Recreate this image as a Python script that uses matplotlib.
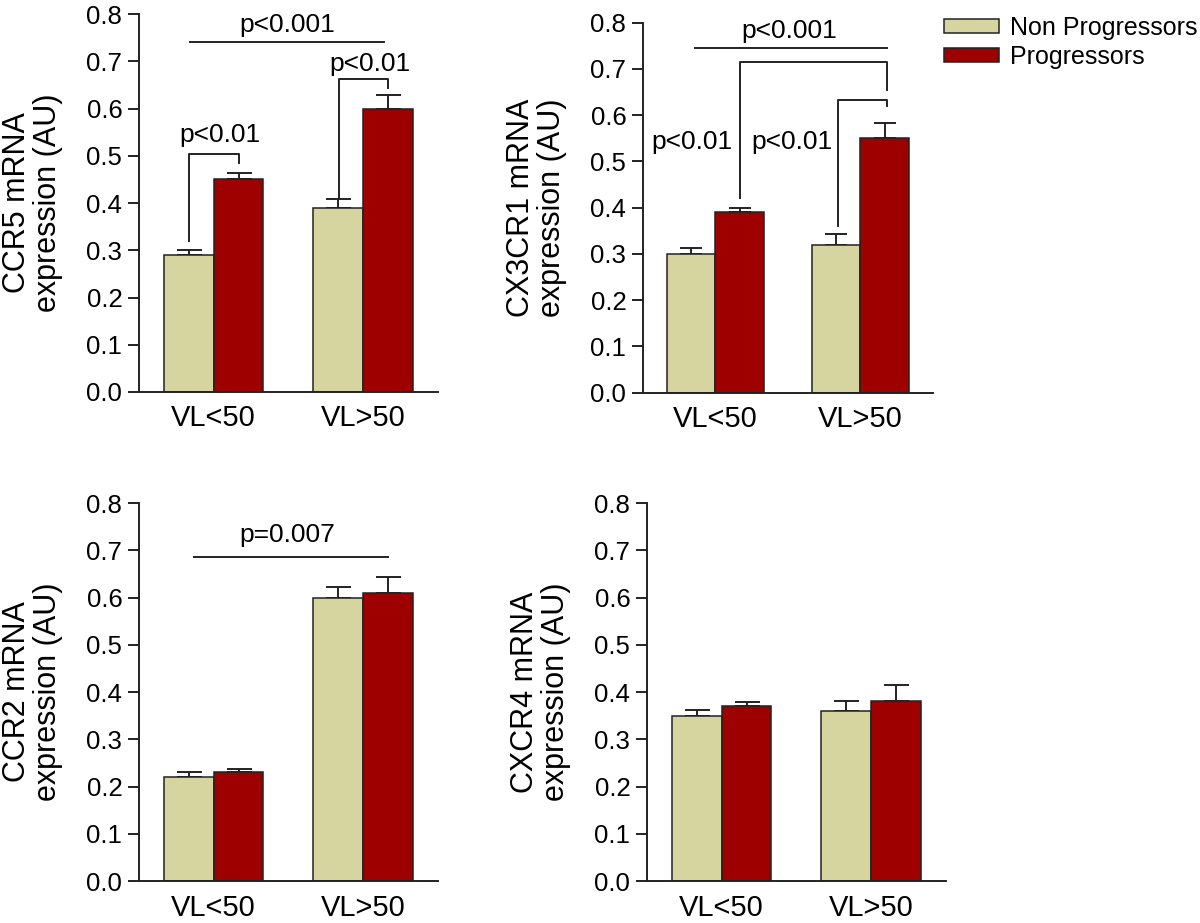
import numpy as np
import matplotlib
matplotlib.use("Agg")
import matplotlib.pyplot as plt

plt.rcParams['font.family'] = ['Liberation Sans', 'DejaVu Sans']

groups = ["VL<50", "VL>50"]
series_names = ["Non Progressors", "Progressors"]

ccr5_non = [0.29, 0.39]
ccr5_prog = [0.45, 0.60]
ccr5_non_err = [0.010, 0.019]
ccr5_prog_err = [0.014, 0.028]

cx3cr1_non = [0.30, 0.32]
cx3cr1_prog = [0.39, 0.55]
cx3cr1_non_err = [0.013, 0.024]
cx3cr1_prog_err = [0.009, 0.034]

ccr2_non = [0.22, 0.60]
ccr2_prog = [0.23, 0.61]
ccr2_non_err = [0.010, 0.023]
ccr2_prog_err = [0.008, 0.033]

cxcr4_non = [0.35, 0.36]
cxcr4_prog = [0.37, 0.38]
cxcr4_non_err = [0.011, 0.020]
cxcr4_prog_err = [0.009, 0.034]

NON_COLOR = '#d6d5a0'
PROG_COLOR = '#9e0000'
INK = '#222222'
LW = 1.4
BAR_W = 0.333

fig = plt.figure(figsize=(12, 9.23), dpi=100)


def make_panel(rect, name, non, prog, non_err, prog_err, capsize):
    ax = fig.add_axes(rect)
    x = np.arange(len(groups))
    b1 = ax.bar(x - BAR_W / 2, non, BAR_W, color=NON_COLOR,
                edgecolor=INK, linewidth=1.1, zorder=2,
                label=series_names[0])
    b2 = ax.bar(x + BAR_W / 2, prog, BAR_W, color=PROG_COLOR,
                edgecolor=INK, linewidth=1.1, zorder=2,
                label=series_names[1])
    # only the upper half of the error bars is drawn
    ax.errorbar(x - BAR_W / 2, non, yerr=[np.zeros(2), non_err], fmt='none',
                ecolor=INK, elinewidth=LW, capsize=capsize,
                capthick=LW, zorder=1)
    ax.errorbar(x + BAR_W / 2, prog, yerr=[np.zeros(2), prog_err],
                fmt='none', ecolor=INK, elinewidth=LW,
                capsize=capsize, capthick=LW, zorder=1)
    ax.set_xlim(-0.5, 1.5)
    ax.set_ylim(0, 0.8)
    ax.set_yticks(np.arange(0, 0.81, 0.1))
    ax.set_yticklabels(["%.1f" % v for v in np.arange(0, 0.81, 0.1)])
    ax.set_xticks(x)
    ax.set_xticklabels(groups)
    ax.spines['top'].set_visible(False)
    ax.spines['right'].set_visible(False)
    for side in ('left', 'bottom'):
        ax.spines[side].set_linewidth(LW)
        ax.spines[side].set_color(INK)
    ax.tick_params(axis='y', length=8, width=LW, pad=4, labelsize=18.5,
                   color=INK)
    ax.tick_params(axis='x', length=0, pad=9, labelsize=21)
    ax.set_ylabel(name + " mRNA\nexpression (AU)", fontsize=22,
                  linespacing=1.05)
    width_px = rect[2] * 1200
    ax.yaxis.set_label_coords(-76 / width_px, 0.5)
    return ax, b1, b2


def hline(ax, x0, x1, y):
    ax.plot([x0, x1], [y, y], color=INK, lw=LW, clip_on=False)


def bracket(ax, x0, y0, x1, y1, top):
    ax.plot([x0, x0, x1, x1], [y0, top, top, y1], color=INK, lw=LW,
            clip_on=False)


def ptext(ax, x, y, s):
    ax.text(x, y, s, ha='center', va='baseline', fontsize=19)


# CCR5
ax1, h1, h2 = make_panel([0.1158, 0.5753, 0.249, 0.4095], "CCR5",
                         ccr5_non, ccr5_prog, ccr5_non_err, ccr5_prog_err, 9)
hline(ax1, -0.158, 1.143, 0.741)
ptext(ax1, 0.49, 0.763, "p<0.001")
bracket(ax1, -0.167, 0.32, 0.17, 0.485, 0.504)
ptext(ax1, 0.04, 0.530, "p<0.01")
bracket(ax1, 0.836, 0.41, 1.164, 0.643, 0.662)
ptext(ax1, 1.045, 0.679, "p<0.01")

# CX3CR1
ax2, _, _ = make_panel([0.5358, 0.5745, 0.2417, 0.4009], "CX3CR1",
                       cx3cr1_non, cx3cr1_prog, cx3cr1_non_err,
                       cx3cr1_prog_err, 8)
hline(ax2, -0.141, 1.18, 0.745)
ptext(ax2, 0.51, 0.766, "p<0.001")
bracket(ax2, 0.17, 0.421, 1.18, 0.655, 0.716)
bracket(ax2, 0.845, 0.360, 1.18, 0.620, 0.633)
ptext(ax2, -0.16, 0.527, "p<0.01")
ptext(ax2, 0.53, 0.527, "p<0.01")

# CCR2
ax3, _, _ = make_panel([0.1158, 0.0455, 0.249, 0.4095], "CCR2",
                       ccr2_non, ccr2_prog, ccr2_non_err, ccr2_prog_err, 9)
hline(ax3, -0.132, 1.165, 0.686)
ptext(ax3, 0.49, 0.718, "p=0.007")

# CXCR4
ax4, _, _ = make_panel([0.5392, 0.0455, 0.249, 0.4095], "CXCR4",
                       cxcr4_non, cxcr4_prog, cxcr4_non_err, cxcr4_prog_err, 9)

leg = fig.legend(handles=[h1, h2], labels=series_names,
                 loc='upper left', bbox_to_anchor=(944 / 1200, 1 - 16 / 923),
                 frameon=False, fontsize=18, borderpad=0, borderaxespad=0,
                 handlelength=2.2, handleheight=0.5, handletextpad=0.42,
                 labelspacing=0.2)

fig.savefig("out.png", dpi=100)
